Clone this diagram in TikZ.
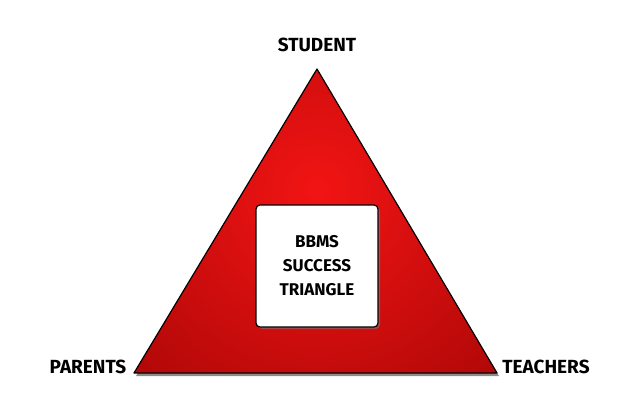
\documentclass[tikz,border=0pt]{standalone}
\usepackage{fontspec}
\setmainfont{Fira Sans}
\usetikzlibrary{shadows}
\definecolor{redC}{HTML}{F21414}
\definecolor{redE}{HTML}{880000}
\tikzset{
  lbl/.style={font=\fontsize{19}{22}\selectfont\bfseries, text=black},
  inner/.style={font=\fontsize{17}{24}\selectfont\bfseries, align=center},
}
\begin{document}
\begin{tikzpicture}[x=1pt,y=-1pt]
\useasboundingbox (0,0) rectangle (640,402);
\coordinate (A) at (317,69);
\coordinate (L) at (134,373);
\coordinate (R) at (497,373);
% shadow
\fill[black!45] ([xshift=2,yshift=-3]A) -- ([xshift=2,yshift=-3]L) -- ([xshift=2,yshift=-3]R) -- cycle;
\begin{scope}
\clip (A) -- (L) -- (R) -- cycle;
\shade[inner color=redC, outer color=redE] (317-420,190-420) rectangle (317+420,190+420);
\end{scope}
\draw[line width=1.2, line join=round] (A) -- (L) -- (R) -- cycle;
\node[draw=black, line width=1.2, fill=white, rounded corners=4, minimum width=122, minimum height=122, drop shadow={shadow xshift=2pt, shadow yshift=-2pt, opacity=0.5}] (box) at (317,266) {};
\node[inner] (t) at (box.center) {BBMS\\SUCCESS\\TRIANGLE};
\node[lbl] (s) at (317,45) {STUDENT};
\node[lbl] (p) at (88,367) {PARENTS};
\node[lbl] (te) at (546,367) {TEACHERS};
\end{tikzpicture}
\end{document}
